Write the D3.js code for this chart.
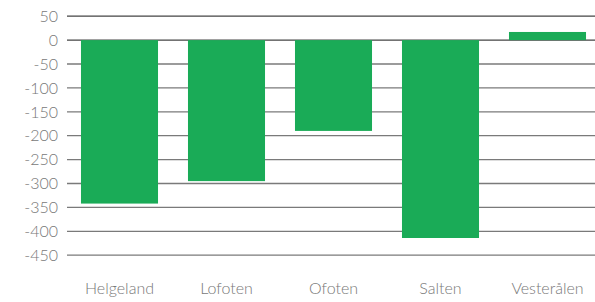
<!DOCTYPE html>
<html>
<head>
<meta charset="utf-8">
<script src="https://cdn.jsdelivr.net/npm/d3@7"></script>
<style>
    body { margin: 0; background: #fff; }
    text { font-family: Lato, "Open Sans", sans-serif; font-weight: 300; fill: #787878; }
</style>
</head>
<body>
<svg id="chart" width="595" height="302"></svg>
<script>
// Data
const regions = ["Helgeland", "Lofoten", "Ofoten", "Salten", "Vesterålen"]
const values = [-342, -295, -190, -414, 17]
const yTicks = [50, 0, -50, -100, -150, -200, -250, -300, -350, -400, -450]

const svg = d3.select("#chart")

const x = d3.scaleBand()
    .domain(regions)
    .range([66, 601])
    .paddingInner(0.28)
    .paddingOuter(0.14)

const y = d3.scaleLinear()
    .domain([-450, 50])
    .range([255.2, 16.2])

// gridlines
svg.append("g")
    .selectAll("line")
    .data(yTicks)
    .enter()
    .append("line")
        .attr("x1", 67)
        .attr("x2", 595)
        .attr("y1", d => y(d))
        .attr("y2", d => y(d))
        .attr("stroke", d => d >= 0 ? "#444" : "#7a7a7a")
        .attr("stroke-width", 1.3)

// y labels
svg.append("g")
    .selectAll("text")
    .data(yTicks)
    .enter()
    .append("text")
        .attr("x", 58)
        .attr("y", d => y(d))
        .attr("dy", "0.36em")
        .attr("text-anchor", "end")
        .attr("font-size", 16)
        .text(d => d)

// bars
svg.append("g")
    .selectAll("rect")
    .data(regions)
    .enter()
    .append("rect")
        .attr("x", d => x(d))
        .attr("width", x.bandwidth())
        .attr("y", (d, i) => y(Math.max(0, values[i])))
        .attr("height", (d, i) => Math.abs(y(values[i]) - y(0)))
        .attr("fill", "#1aab57")

// x labels
svg.append("g")
    .selectAll("text")
    .data(regions)
    .enter()
    .append("text")
        .attr("x", d => x(d) + x.bandwidth() / 2)
        .attr("y", 294)
        .attr("text-anchor", "middle")
        .attr("font-size", 16)
        .text(d => d)
</script>
</body>
</html>
